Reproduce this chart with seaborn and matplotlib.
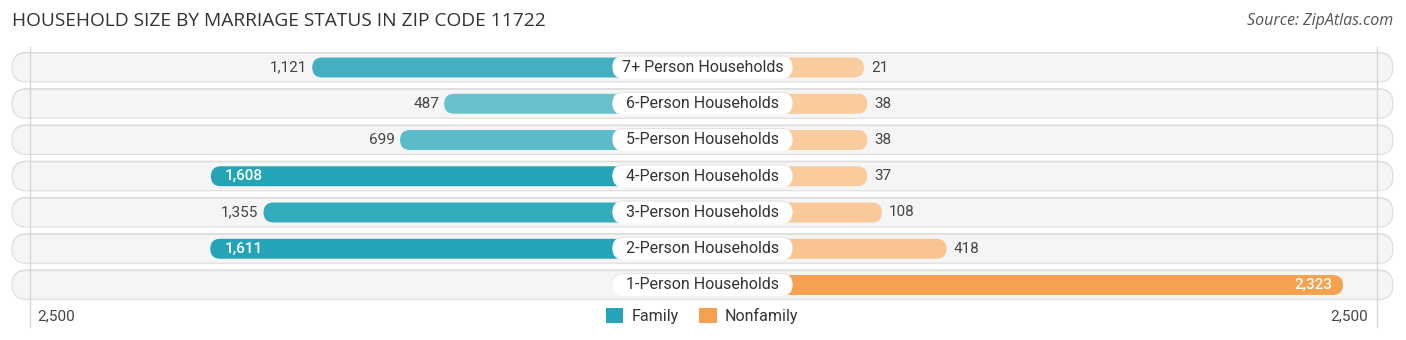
import numpy as np
import pandas as pd
import matplotlib
matplotlib.use("Agg")
import matplotlib.pyplot as plt
from matplotlib.patches import FancyBboxPatch, Rectangle, Patch
import seaborn as sns

# ---- data ----
categories = ["7+ Person Households", "6-Person Households", "5-Person Households",
              "4-Person Households", "3-Person Households", "2-Person Households",
              "1-Person Households"]
family = [1121, 487, 699, 1608, 1355, 1611, 0]
nonfamily = [21, 38, 38, 37, 108, 418, 2323]
axis_max = 2500
axis_labels = ["2,500", "2,500"]
series_names = ["Family", "Nonfamily"]
title = "HOUSEHOLD SIZE BY MARRIAGE STATUS IN ZIP CODE 11722"
source = "Source: ZipAtlas.com"

# ---- style ----
sns.set_theme(style="white")
plt.rcParams['font.family'] = ['Roboto', 'DejaVu Sans']

FAM = np.array([0x24, 0xa4, 0xb6]) / 255
NON = np.array([0xf6, 0xa1, 0x4f]) / 255

W, H = 1406, 340
fig = plt.figure(figsize=(W / 100, H / 100), dpi=100)
ax = fig.add_axes([0, 0, 1, 1])

s = 0.2081                 # px per unit
cx = 702.5                 # centre px
offset = 157 / s           # gap between centre and bar origin, in units
xlim = (-cx / s, (W - cx) / s)
row0, pitch = 67.5, 36.25
ylim = ((H - row0) / pitch, -row0 / pitch)

def px2x(p):
    return (p - cx) / s

def py2y(p):
    return (p - row0) / pitch

def shade(base, v, vmax):
    a = 0.55 + 0.45 * v / vmax
    return tuple(1 - a * (1 - base))

df = pd.DataFrame({
    "cat": categories,
    "fam": [-(v + offset) if v > 0 else 0 for v in family],
    "non": [v + offset for v in nonfamily],
})
fam_cols = [shade(FAM, v, max(family)) for v in family]
non_cols = [shade(NON, v, max(nonfamily)) for v in nonfamily]

bar_h = 0.55
sns.barplot(data=df, x="fam", y="cat", hue="cat", palette=fam_cols, order=categories,
            hue_order=categories, orient="h", width=bar_h, legend=False, ax=ax,
            saturation=1)
sns.barplot(data=df, x="non", y="cat", hue="cat", palette=non_cols, order=categories,
            hue_order=categories, orient="h", width=bar_h, legend=False, ax=ax,
            saturation=1)

ax.set_xlim(*xlim)
ax.set_ylim(*ylim)
ax.axis("off")

xpp = (xlim[1] - xlim[0]) / W
ypp = (ylim[0] - ylim[1]) / H
ma = ypp / xpp

# replace rectangles by pills
rects = [p for p in ax.patches if isinstance(p, Rectangle)]
for p in rects:
    x, y, w, h = p.get_x(), p.get_y(), p.get_width(), p.get_height()
    fc = p.get_facecolor()
    p.remove()
    if abs(w) < 1e-9:
        continue
    x0 = min(x, x + w)
    w = abs(w)
    r = h / 2 / ma
    ax.add_patch(FancyBboxPatch((x0, y), w, h, boxstyle=f"round,pad=0,rounding_size={r}",
                                mutation_aspect=ma, fc=fc, ec="none", zorder=3))

# row backgrounds
bg_h = 29 * ypp
for i in range(len(categories)):
    x0 = px2x(12)
    w = px2x(1393) - x0
    ax.add_patch(FancyBboxPatch((x0, i - bg_h / 2 - 1.0 * ypp), w, bg_h,
                                boxstyle=f"round,pad=0,rounding_size={bg_h/2/ma}",
                                mutation_aspect=ma, fc="#d6d6d6", ec="none", zorder=0.5))
    ax.add_patch(FancyBboxPatch((x0, i - bg_h / 2), w, bg_h,
                                boxstyle=f"round,pad=0,rounding_size={bg_h/2/ma}",
                                mutation_aspect=ma, fc="#f5f5f5", ec="#dedede", lw=0.8,
                                zorder=1))

# gridlines
for gp in (30, 1377):
    ax.plot([px2x(gp)] * 2, [py2y(47), py2y(327)], color="#d4d4d4", lw=1, zorder=2)

# category label boxes
lb_w = 180 * xpp
lb_h = 22 * ypp
for i, c in enumerate(categories):
    ax.add_patch(FancyBboxPatch((-lb_w / 2, i - lb_h / 2 - 1.0 * ypp), lb_w, lb_h,
                                boxstyle=f"round,pad=0,rounding_size={lb_h/2/ma}",
                                mutation_aspect=ma, fc="#e2e2e2", ec="none", zorder=3.9))
    ax.add_patch(FancyBboxPatch((-lb_w / 2, i - lb_h / 2), lb_w, lb_h,
                                boxstyle=f"round,pad=0,rounding_size={lb_h/2/ma}",
                                mutation_aspect=ma, fc="white", ec="none", zorder=4))
    ax.text(0, i, c, ha="center", va="center", fontsize=11.5, color="#333333", zorder=5)

# value labels
for i, v in enumerate(family):
    if v <= 0:
        continue
    end = -(v + offset)
    txt = f"{v:,}"
    if v / axis_max > 0.6:
        ax.text(end + 14 * xpp, i, txt, ha="left", va="center", fontsize=11,
                color="white", fontweight="medium", zorder=5)
    else:
        ax.text(end - 5 * xpp, i, txt, ha="right", va="center", fontsize=11,
                color="#444444", zorder=5)
for i, v in enumerate(nonfamily):
    end = v + offset
    txt = f"{v:,}"
    if v / axis_max > 0.6:
        ax.text(end - 11 * xpp, i, txt, ha="right", va="center", fontsize=11,
                color="white", fontweight="medium", zorder=5)
    else:
        ax.text(end + 7 * xpp, i, txt, ha="left", va="center", fontsize=11,
                color="#444444", zorder=5)

# axis labels
ax.text(px2x(37), py2y(316), axis_labels[0], ha="left", va="center", fontsize=11,
        color="#444444")
ax.text(px2x(1368), py2y(316), axis_labels[1], ha="right", va="center", fontsize=11,
        color="#444444")

# legend
handles = [Patch(fc=FAM, ec="none", label=series_names[0]),
           Patch(fc=NON, ec="none", label=series_names[1])]
ax.legend(handles=handles, loc="center", bbox_to_anchor=(702 / W, 1 - 316 / H), ncol=2,
          frameon=False, fontsize=11.5, handlelength=1.1, handleheight=1.1,
          handletextpad=0.5, columnspacing=1.3, borderpad=0, labelcolor="#333333")

# title & source
fig.text(12 / W, 1 - 21 / H, title, ha="left", va="center", fontsize=13.8,
         color="#333333", family=["Open Sans", "DejaVu Sans"])
fig.text(1393 / W, 1 - 21 / H, source, ha="right", va="center", fontsize=11.5,
         color="#555555", style="italic", family=["Open Sans", "DejaVu Sans"])

fig.savefig("out.png", dpi=100)
